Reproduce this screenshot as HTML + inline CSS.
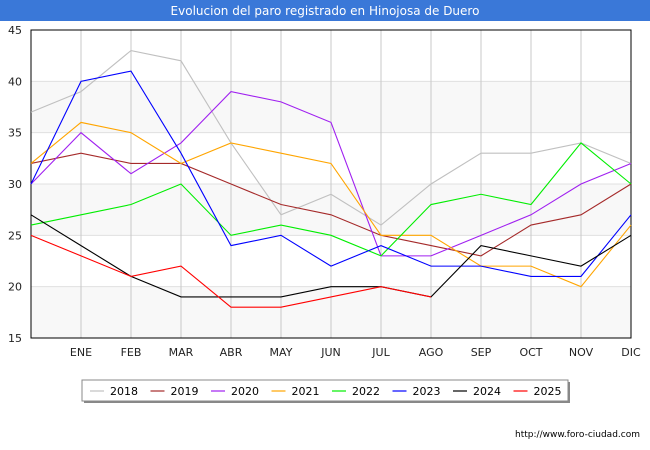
<!DOCTYPE html>
<html><head><meta charset="utf-8"><style>
body{margin:0;width:650px;height:450px;background:#fff;font-family:"DejaVu Sans","Liberation Sans",sans-serif;overflow:hidden}
#title{position:absolute;left:0;top:0;width:650px;height:21px;background:#3a78d8;color:#fff;font-size:12px;text-align:center;line-height:22px}
svg text{font-family:"DejaVu Sans","Liberation Sans",sans-serif}
</style></head><body>
<div id="title">Evolucion del paro registrado en Hinojosa de Duero</div>
<svg id="chart" width="650" height="450" style="position:absolute;left:0;top:0"></svg>
<script>
const months=["","ENE","FEB","MAR","ABR","MAY","JUN","JUL","AGO","SEP","OCT","NOV","DIC"];
const yTicks=[15,20,25,30,35,40,45];
const years=["2018","2019","2020","2021","2022","2023","2024","2025"];
const colors=["#c0c0c0","#a52a2a","#a020f0","#ffa500","#00ee00","#0000ff","#000000","#ff0000"];
const s2018=[37,39,43,42,34,27,29,26,30,33,33,34,32];
const s2019=[32,33,32,32,30,28,27,25,24,23,26,27,30];
const s2020=[30,35,31,34,39,38,36,23,23,25,27,30,32];
const s2021=[32,36,35,32,34,33,32,25,25,22,22,20,26];
const s2022=[26,27,28,30,25,26,25,23,28,29,28,34,30];
const s2023=[30,40,41,33,24,25,22,24,22,22,21,21,27];
const s2024=[27,24,21,19,19,19,20,20,19,24,23,22,25];
const s2025=[25,23,21,22,18,18,19,20,19];
const series=[s2018,s2019,s2020,s2021,s2022,s2023,s2024,s2025];
const L=31,R=631,T=30,B=338;
const x=i=>L+i*(R-L)/12;
const y=v=>B-(v-15)*(B-T)/30;
const svg=document.getElementById('chart');
const NS='http://www.w3.org/2000/svg';
function mk(t,a,p){const e=document.createElementNS(NS,t);for(const k in a)e.setAttribute(k,a[k]);(p||svg).appendChild(e);return e;}
for(let v=15;v<45;v+=10){const r=mk('rect',{x:L,y:y(v+5),width:R-L,height:y(v)-y(v+5),fill:'#f8f8f8'});

}
yTicks.forEach(v=>{const g=mk('line',{x1:L,x2:R,y1:y(v),y2:y(v),stroke:'#e0e0e0'});


const t=mk('text',{x:L-9,y:y(v)+4,'text-anchor':'end','font-size':11,fill:'#222'});t.textContent=v;

});
months.forEach((m,i)=>{if(i==0)return;const g=mk('line',{x1:x(i),x2:x(i),y1:T,y2:B,stroke:'#c8c8c8'});


const t=mk('text',{x:x(i),y:B+18,'text-anchor':'middle','font-size':11,fill:'#222'});t.textContent=m;

});
const fr=mk('rect',{x:L,y:T,width:R-L,height:B-T,fill:'none',stroke:'#000'});


series.forEach((s,k)=>{const p=mk('polyline',{points:s.map((v,i)=>x(i)+','+y(v)).join(' '),fill:'none',stroke:colors[k],'stroke-width':1.1});

});
const lg=mk('g',{});


mk('rect',{x:84,y:382,width:486,height:21,fill:'#888'},lg);
mk('rect',{x:82,y:380,width:486,height:21,fill:'#fff',stroke:'#888'},lg);
years.forEach((yr,k)=>{const gx=90+k*60.5;
const e=mk('g',{},lg);


mk('line',{x1:gx,x2:gx+14,y1:391,y2:391,stroke:colors[k],'stroke-width':1.2},e);
const t=mk('text',{x:gx+20,y:395,'font-size':11,fill:'#000'},e);t.textContent=yr;});
const u=mk('text',{x:640,y:437,'text-anchor':'end','font-size':9,fill:'#000'});u.textContent='http://www.foro-ciudad.com';


</script>
</body></html>
